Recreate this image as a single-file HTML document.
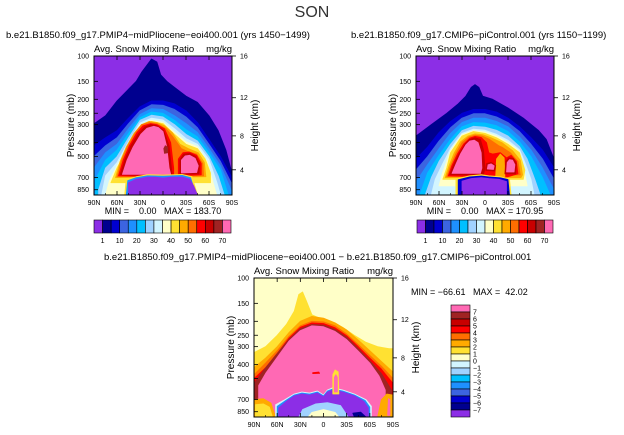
<!DOCTYPE html>
<html><head><meta charset="utf-8"><style>
html,body{margin:0;padding:0;background:#fff;}
svg{display:block;font-family:"Liberation Sans",Arial,sans-serif;}
</style></head><body>
<svg id="s" width="624" height="435" viewBox="0 0 624 435" xmlns="http://www.w3.org/2000/svg"></svg>
<script>
const palette=["#8c2ee6","#00008f","#0000d0","#3c64e0","#1e90ff","#00bfff","#a0d2ff","#d2f5ff","#ffffc8","#ffe132","#ffaa00","#ff6e00","#ff0000","#c80000","#a02323","#ff69b4"];
const latTicks=[90,60,30,0,-30,-60,-90];
const latLabels=["90N","60N","30N","0","30S","60S","90S"];
const pTicks=[100,150,200,250,300,400,500,700,850];
const hTicks=[16,12,8,4];
const hTickP=[100,195,359,618];
const topBarLabels=["1","10","20","30","40","50","60","70"];
const diffBarLabels=["7","6","5","4","3","2","1","0","−1","−2","−3","−4","−5","−6","−7"];

// filled contour regions: [colorIndex, [[lat,pressure],...]]
const tlLayers=[
[1,[[90,296],[75,260],[60,205],[45,170],[35,150],[28,130],[22,118],[15,105],[8,110],[3,135],[-5,150],[-15,165],[-30,190],[-45,210],[-60,260],[-72,330],[-82,450],[-90,650],[-90,1000],[90,1000]]],
[2,[[90,420],[75,370],[60,330],[45,270],[30,225],[15,205],[0,205],[-15,215],[-30,240],[-45,290],[-60,380],[-75,500],[-90,700],[-90,1000],[90,1000]]],
[3,[[90,500],[75,420],[60,370],[45,295],[30,240],[15,218],[0,220],[-15,235],[-30,265],[-45,315],[-60,410],[-75,540],[-90,780],[-90,1000],[90,1000]]],
[4,[[90,600],[75,470],[60,410],[45,320],[30,255],[15,232],[0,235],[-15,260],[-30,295],[-45,340],[-60,440],[-75,580],[-90,880],[-90,1000],[90,1000]]],
[5,[[88,1000],[88,720],[75,530],[60,450],[45,345],[30,268],[15,245],[0,250],[-15,280],[-30,325],[-45,365],[-60,470],[-75,620],[-85,1000]]],
[6,[[84,1000],[84,850],[75,600],[60,500],[45,370],[30,280],[15,258],[0,265],[-15,300],[-30,350],[-45,390],[-60,500],[-72,680],[-80,1000]]],
[7,[[80,1000],[75,680],[60,550],[45,395],[30,292],[15,270],[0,278],[-15,320],[-30,375],[-45,410],[-60,525],[-70,750],[-75,1000]]],
[8,[[75,1000],[70,740],[60,580],[45,415],[30,302],[15,280],[0,288],[-15,338],[-30,395],[-45,428],[-58,545],[-66,780],[-70,1000]]],
[9,[[68,760],[60,600],[45,430],[30,310],[15,285],[0,295],[-15,350],[-30,410],[-45,440],[-55,520],[-62,650],[-62,760]]],
[10,[[62,700],[56,540],[48,430],[38,345],[28,300],[18,285],[8,290],[-2,305],[-12,340],[-22,410],[-33,440],[-46,470],[-54,550],[-56,690]]],
[11,[[60,690],[54,530],[46,420],[36,340],[28,300],[18,290],[8,295],[-4,320],[-12,360],[-24,440],[-32,460],[-44,480],[-52,560],[-53,680]]],
[12,[[58,680],[52,530],[44,420],[34,340],[26,305],[16,295],[8,300],[-2,320],[-10,400],[-14,600],[-14,690]]],
[12,[[-20,680],[-20,520],[-26,470],[-34,465],[-44,490],[-50,560],[-50,670]]],
[13,[[56,670],[50,530],[42,420],[32,345],[24,312],[16,300],[8,305],[-1,330],[-8,420],[-11,600],[-12,680]]],
[13,[[-22,665],[-22,525],[-27,480],[-35,475],[-43,500],[-48,570],[-47,660]]],
[15,[[53,665],[47,530],[39,430],[29,350],[21,318],[12,308],[6,314],[0,335],[-5,430],[-8,600],[-10,665]]],
[15,[[-24,650],[-24,530],[-29,495],[-35,490],[-42,515],[-46,580],[-44,645]]],
[14,[[-1,440],[-3,420],[-6,430],[-6,470],[-2,475]]],
[9,[[50,1000],[48,720],[35,690],[20,668],[0,672],[-25,665],[-38,690],[-45,1000]]],
[4,[[48,1000],[46,735],[35,700],[20,680],[0,684],[-25,676],[-36,700],[-43,1000]]],
[0,[[45,1000],[45,760],[35,720],[20,695],[10,695],[0,705],[-10,695],[-25,695],[-35,720],[-40,800],[-45,1000]]]
];
const trLayers=[
[1,[[90,360],[70,300],[50,250],[35,215],[25,190],[18,165],[13,158],[8,165],[3,190],[-10,200],[-30,230],[-50,270],[-70,330],[-80,380],[-90,520],[-90,1000],[90,1000]]],
[2,[[90,520],[75,430],[60,340],[45,285],[30,250],[15,235],[0,235],[-15,245],[-30,270],[-45,310],[-60,370],[-75,450],[-90,600],[-90,1000],[90,1000]]],
[3,[[90,620],[75,500],[60,390],[45,315],[30,270],[15,252],[0,252],[-15,265],[-30,290],[-45,335],[-60,410],[-75,520],[-90,720],[-90,1000],[90,1000]]],
[4,[[90,750],[75,570],[60,440],[45,345],[30,290],[15,270],[0,270],[-15,285],[-30,310],[-45,365],[-60,450],[-75,600],[-90,850],[-90,1000],[90,1000]]],
[5,[[85,1000],[75,650],[60,490],[45,380],[30,310],[15,290],[0,292],[-15,305],[-30,335],[-45,395],[-60,500],[-75,700],[-85,1000]]],
[6,[[78,1000],[70,700],[60,540],[45,410],[30,330],[15,308],[0,312],[-15,328],[-30,360],[-45,425],[-55,520],[-65,720],[-72,1000]]],
[7,[[70,1000],[65,720],[55,560],[45,440],[30,345],[15,322],[0,328],[-15,350],[-30,385],[-45,448],[-52,550],[-60,720],[-64,1000]]],
[8,[[60,800],[55,640],[45,455],[30,352],[15,330],[0,337],[-15,360],[-30,398],[-45,460],[-50,580],[-55,800]]],
[9,[[55,720],[50,600],[45,470],[30,360],[15,335],[0,345],[-15,370],[-30,410],[-45,470],[-52,620],[-50,720]]],
[10,[[52,700],[47,580],[40,470],[32,395],[22,360],[13,348],[3,352],[-8,370],[-22,400],[-36,455],[-46,530],[-49,670],[-47,700]]],
[11,[[50,690],[45,580],[38,475],[30,400],[21,365],[13,355],[4,360],[-6,380],[-18,420],[-22,430],[-33,470],[-43,540],[-46,670]]],
[12,[[48,680],[43,575],[36,480],[28,410],[20,372],[13,362],[5,368],[-2,400],[-5,470],[-10,480],[-20,470],[-28,510],[-34,490],[-41,540],[-43,660],[-30,690],[-15,700]]],
[10,[[-14,690],[-15,520],[-20,480],[-25,510],[-26,690]]],
[13,[[46,670],[41,570],[34,480],[26,410],[20,380],[13,370],[6,380],[2,450],[0,600],[2,670]]],
[15,[[43,655],[38,565],[32,480],[25,415],[20,390],[14,385],[9,400],[5,470],[4,600],[6,655]]],
[13,[[-1,625],[-2,560],[-8,548],[-14,575],[-13,630]]],
[15,[[-3,610],[-4,570],[-8,562],[-12,580],[-11,615]]],
[13,[[-26,660],[-27,540],[-31,510],[-37,515],[-41,560],[-40,660]]],
[15,[[-28,640],[-29,550],[-32,525],[-36,530],[-39,570],[-38,640]]],
[9,[[38,1000],[38,715],[20,680],[5,668],[-5,680],[-20,690],[-32,715],[-34,1000]]],
[2,[[35,1000],[35,725],[20,692],[5,682],[-5,692],[-20,702],[-30,722],[-32,1000]]],
[0,[[30,1000],[30,740],[18,710],[5,700],[-5,710],[-18,720],[-28,745],[-28,1000]]]
];
const diffLayers=[
["#ffe132",[[90,330],[75,300],[60,250],[48,210],[38,170],[32,130],[27,125],[22,145],[15,180],[5,190],[-10,200],[-25,220],[-40,250],[-55,280],[-70,300],[-85,310],[-90,310],[-90,1000],[90,1000]]],
["#ffaa00",[[90,420],[75,360],[60,300],[45,240],[30,200],[15,185],[0,190],[-15,205],[-30,230],[-45,270],[-60,320],[-75,380],[-90,450],[-90,1000],[90,1000]]],
["#ff6e00",[[90,470],[75,390],[60,320],[45,255],[30,215],[15,200],[0,202],[-15,215],[-30,245],[-45,290],[-60,345],[-75,410],[-90,500],[-90,1000],[90,1000]]],
["#ff0000",[[90,500],[75,420],[60,335],[45,262],[30,220],[15,205],[0,207],[-15,222],[-30,252],[-45,300],[-60,360],[-75,430],[-90,540],[-90,1000],[90,1000]]],
["#a02323",[[90,540],[78,440],[62,345],[45,268],[30,225],[15,210],[0,212],[-15,228],[-30,258],[-45,310],[-60,375],[-75,460],[-88,600],[-88,1000],[90,1000]]],
["#ff69b4",[[84,1000],[84,560],[75,460],[60,355],[45,275],[30,232],[15,215],[0,218],[-15,235],[-30,268],[-45,322],[-60,390],[-72,480],[-80,600],[-80,1000]]],
["#ffaa00",[[90,1000],[90,700],[78,690],[68,740],[62,1000]]],
["#ffe132",[[88,1000],[88,760],[78,750],[70,790],[66,1000]]],
["#ffaa00",[[-90,1000],[-90,650],[-82,640],[-75,700],[-70,1000]]],
["#ff69b4",[[-86,900],[-86,700],[-84,690],[-83,900]]],
["#d2f5ff",[[62,1000],[62,760],[50,700],[38,640],[28,620],[18,630],[8,610],[0,650],[-5,600],[-12,580],[-25,600],[-40,640],[-55,700],[-62,780],[-62,1000]]],
["#1e90ff",[[60,1000],[60,780],[49,710],[38,650],[28,630],[18,640],[8,620],[0,660],[-5,610],[-12,590],[-25,610],[-40,650],[-54,710],[-60,790],[-60,1000]]],
["#8c2ee6",[[58,1000],[58,800],[48,720],[38,660],[28,640],[18,650],[8,630],[0,670],[-5,620],[-12,600],[-25,620],[-40,660],[-52,720],[-58,800],[-58,1000]]],
["#a0d2ff",[[32,1000],[27,820],[10,750],[-5,735],[-22,770],[-32,1000]]],
["#ffffc8",[[20,1000],[15,860],[0,820],[-15,860],[-20,1000]]],
["#00008f",[[-40,1000],[-38,870],[-48,855],[-55,1000]]],
["#ffe132",[[-12,640],[-12,470],[-15,435],[-19,450],[-20,640]]],
["#ff69b4",[[-14,620],[-14,490],[-16,470],[-18,490],[-18,620]]],
["#ff0000",[[14,455],[6,450],[5,460],[14,462]]]
];

const NS="http://www.w3.org/2000/svg";
const svg=document.getElementById('s');
function el(tag,attrs,parent){const e=document.createElementNS(NS,tag);for(const k in attrs)e.setAttribute(k,attrs[k]);(parent||svg).appendChild(e);return e;}
function txt(x,y,s,size,anchor,parent,rot){const t=el('text',{x:x,y:y,'font-size':size,'text-anchor':anchor||'start',fill:'#000'},parent);if(rot)t.setAttribute('transform','rotate('+rot+' '+x+' '+y+')');t.textContent=s;return t;}

function panel(id,x0,y0,w,h,bg,layers,title,titleX,useHex){
  const g=el('g',{});
  
  
  const PB=925;
  const xs=lat=>x0+(90-lat)/180*w;
  const ys=p=>y0+h*Math.log(Math.min(p,PB)/100)/Math.log(PB/100);
  const cid='clip-'+id;
  const cp=el('clipPath',{id:cid},g);el('rect',{x:x0,y:y0,width:w,height:h},cp);
  const area=el('g',{'clip-path':'url(#'+cid+')'},g);
  const bgr=el('rect',{x:x0,y:y0,width:w,height:h,fill:bg},area);
  
  
  layers.forEach(L=>{
    const c=useHex?L[0]:palette[L[0]];
    const d=L[1].map((q,i)=>(i?'L':'M')+xs(q[0]).toFixed(1)+' '+ys(q[1]).toFixed(1)).join(' ')+'Z';
    const pth=el('path',{d:d,fill:c,stroke:c,'stroke-width':0.8,'stroke-linejoin':'round'},area);
    
    
  });
  el('rect',{x:x0,y:y0,width:w,height:h,fill:'none',stroke:'#000','stroke-width':1},g);
  latTicks.forEach((la,i)=>{const x=xs(la);el('line',{x1:x,x2:x,y1:y0+h,y2:y0+h-4,stroke:'#000','stroke-width':0.8},g);el('line',{x1:x,x2:x,y1:y0,y2:y0+4,stroke:'#000','stroke-width':0.8},g);
    const t=txt(x,y0+h+10,latLabels[i],7,'middle',g);});
  for(let la=75;la>-90;la-=15){if(la%30===0)continue;const x=xs(la);el('line',{x1:x,x2:x,y1:y0+h,y2:y0+h-2,stroke:'#000','stroke-width':0.6},g);}
  pTicks.forEach(p=>{const y=ys(p);el('line',{x1:x0,x2:x0+4,y1:y,y2:y,stroke:'#000','stroke-width':0.8},g);
    const t=txt(x0-5,y+2.5,String(p),7,'end',g);});
  hTicks.forEach((hk,i)=>{const y=ys(hTickP[i]);el('line',{x1:x0+w,x2:x0+w+4,y1:y,y2:y,stroke:'#000','stroke-width':0.8},g);
    const t=txt(x0+w+8,y+2.5,String(hk),7,'start',g);});
  let t=txt(x0-20,y0+h/2,'Pressure (mb)',10,'middle',g,-90);
  t=txt(x0+w+26,y0+h/2,'Height (km)',10,'middle',g,-90);
  t=txt(x0,y0-4,'Avg. Snow Mixing Ratio',9.5,'start',g);
  t=txt(x0+w,y0-4,'mg/kg',9.5,'end',g);
  t=txt(titleX,y0-18,title,9.5,'start',g);
  return g;
}
const s=txt(312,17,'SON',16,'middle');s.setAttribute('fill','#333');
panel('panel-pliocene',94,56,138,139,palette[0],tlLayers,'b.e21.B1850.f09_g17.PMIP4−midPliocene−eoi400.001 (yrs 1450−1499)',6,false);
panel('panel-picontrol',416,56,138,139,palette[0],trLayers,'b.e21.B1850.f09_g17.CMIP6−piControl.001 (yrs 1150−1199)',351,false);
panel('panel-difference',254,278,139,139,'#ffffc8',diffLayers,'b.e21.B1850.f09_g17.PMIP4−midPliocene−eoi400.001 − b.e21.B1850.f09_g17.CMIP6−piControl.001',104,true);

function stat(x,y,s,a){const t=txt(x,y,s,9,a||'middle');t.setAttribute('xml:space','preserve');t.style.whiteSpace='pre';}
stat(163,214,'MIN =    0.00   MAX = 183.70');
stat(485,214,'MIN =    0.00   MAX = 170.95');
stat(411,295,'MIN = −66.61   MAX =  42.02','start');

function hbar(x0,y0,w,h,id){const g=el('g',{});
  const bw=w/16;palette.forEach((c,i)=>{el('rect',{x:x0+i*bw,y:y0,width:bw,height:h,fill:c,stroke:'#000','stroke-width':0.6},g);});
  topBarLabels.forEach((l,i)=>{const t=txt(x0+(2*i+1)*bw,y0+h+10,l,7,'middle',g);});}
hbar(94,220,137,13,'colorbar-pliocene');
hbar(417,220,136,13,'colorbar-picontrol');
(function(){const g=el('g',{});
  const x0=451,y0=305,w=19,h=112,bh=h/16;
  for(let i=0;i<16;i++){el('rect',{x:x0,y:y0+i*bh,width:w,height:bh,fill:palette[15-i],stroke:'#000','stroke-width':0.6},g);}
  diffBarLabels.forEach((l,i)=>{const t=txt(x0+w+3,y0+(i+1)*bh+2.5,l,7,'start',g);});})();
</script>
</body></html>
